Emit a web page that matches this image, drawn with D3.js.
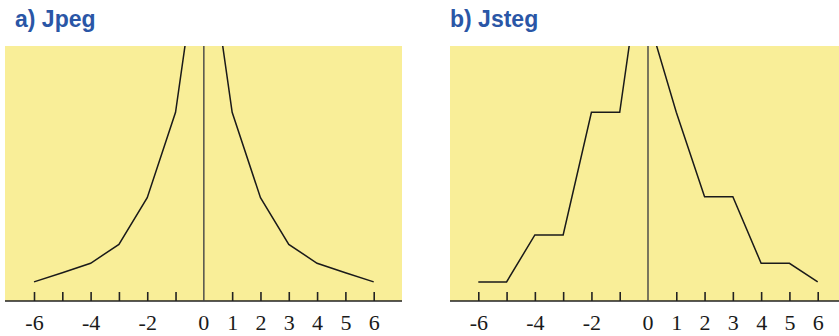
<!DOCTYPE html>
<html>
<head>
<meta charset="utf-8">
<script src="https://cdn.jsdelivr.net/npm/d3@7"></script>
<style>
  body { margin: 0; background: #fff; }
  svg { display: block; }
</style>
</head>
<body>
<svg id="canvas" width="839" height="336"></svg>
<script>
// coefficient values on the x axis
let coefValues = [-6, -5, -4, -3, -2, -1, 0, 1, 2, 3, 4, 5, 6]
let labeledTicks = [-6, -4, -2, 0, 1, 2, 3, 4, 5, 6]

// histogram heights (arbitrary units, peak is clipped at top)
let jpegX = [-6, -5, -4, -3, -2, -1, 0, 1, 2, 3, 4, 5, 6]
let jpegY = [7.5, 11.1, 14.8, 22.2, 40.5, 74, 152, 74, 40.5, 22.2, 14.8, 11.1, 7.5]

let jstegX = [-6, -5, -4, -3, -2, -1, -0.35, 1, 2, 3, 4, 5, 6]
let jstegY = [7.5, 7.5, 25.9, 25.9, 74, 74, 124.6, 74, 40.9, 40.9, 14.8, 14.8, 7.5]

let titles = ['a) Jpeg', 'b) Jsteg']

let canvas = d3.select('#canvas')

let plotTop = 46
let plotBottom = 301

let y = d3.scaleLinear().domain([0, 100]).range([plotBottom, plotTop])

let panels = [
    {title: titles[0], xs: jpegX, ys: jpegY, left: 5, right: 402, r0: 34, r1: 373.7, titleX: 15},
    {title: titles[1], xs: jstegX, ys: jstegY, left: 450, right: 839, r0: 478.3, r1: 817.7, titleX: 450}
]

panels.forEach((p, i) => {
    let g = canvas.append('g')

    let x = d3.scaleLinear().domain([-6, 6]).range([p.r0, p.r1])

    g.append('rect')
     .attr('x', p.left)
     .attr('y', plotTop)
     .attr('width', p.right - p.left)
     .attr('height', plotBottom - plotTop)
     .attr('fill', '#f9ee98')

    g.append('clipPath')
     .attr('id', 'clip' + i)
     .append('rect')
     .attr('x', p.left)
     .attr('y', plotTop)
     .attr('width', p.right - p.left)
     .attr('height', plotBottom - plotTop)

    let axis = d3.axisBottom(x)
                 .tickValues(coefValues.filter(v => v !== 0))
                 .tickSizeInner(-9)
                 .tickSizeOuter(0)
                 .tickPadding(13)
                 .tickFormat(v => labeledTicks.includes(v) ? String(v) : '')

    let ax = g.append('g')
              .attr('transform', 'translate(0,' + plotBottom + ')')
              .call(axis)
              .attr('font-family', 'Liberation Serif, serif')
              .attr('font-size', 22)
    ax.select('.domain').remove()
    ax.selectAll('.tick line').attr('stroke', '#222').attr('stroke-width', 1.6)

    // label for 0 (no tick, the vertical line stands in)
    ax.append('text')
      .attr('x', x(0))
      .attr('y', 13)
      .attr('dy', '0.71em')
      .attr('text-anchor', 'middle')
      .text('0')

    ax.selectAll('text')
      .attr('style', "font-family: 'Liberation Serif', serif; font-size: 22px;")
      .attr('fill', '#1a1a1a')

    g.append('line')
     .attr('x1', p.left)
     .attr('x2', p.right)
     .attr('y1', plotBottom)
     .attr('y2', plotBottom)
     .attr('stroke', '#222')
     .attr('stroke-width', 1.6)

    g.append('line')
     .attr('x1', x(0))
     .attr('x2', x(0))
     .attr('y1', plotTop)
     .attr('y2', plotBottom)
     .attr('stroke', '#444')
     .attr('stroke-width', 1.4)

    let line = d3.line()
                 .x((d, k) => x(p.xs[k]))
                 .y(d => y(d))

    g.append('path')
     .attr('clip-path', 'url(#clip' + i + ')')
     .attr('d', line(p.ys))
     .attr('fill', 'none')
     .attr('stroke', '#1a1a1a')
     .attr('stroke-width', 1.5)

    canvas.append('text')
          .attr('x', p.titleX)
          .attr('y', 27)
          .style('font-family', '"Liberation Sans", Arial, sans-serif')
          .style('font-weight', 'bold')
          .style('font-size', '23px')
          .attr('fill', '#2a56a6')
          .text(p.title)
})
</script>
</body>
</html>
